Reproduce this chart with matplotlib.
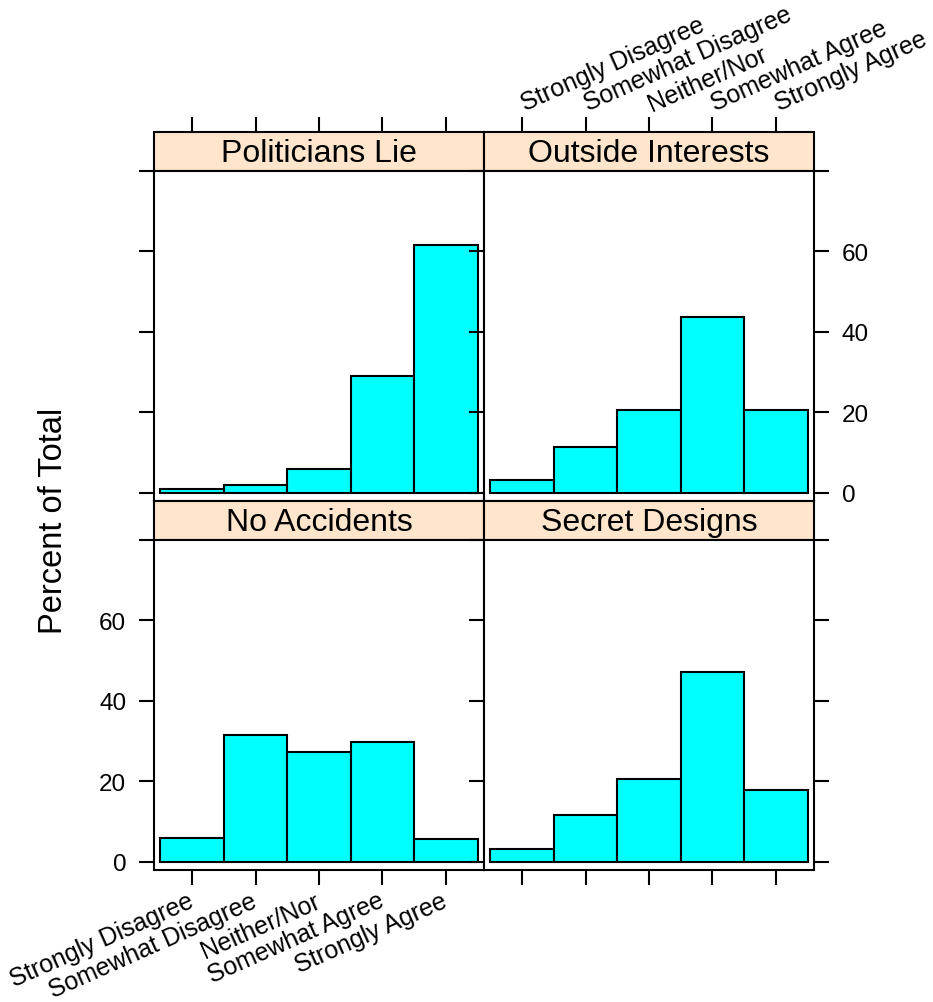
import matplotlib
matplotlib.use("Agg")
import matplotlib.pyplot as plt

plt.rcParams["font.family"] = ["Liberation Sans", "DejaVu Sans"]

# survey responses, percent of total per statement
levels = ["Strongly Disagree", "Somewhat Disagree", "Neither/Nor",
          "Somewhat Agree", "Strongly Agree"]
politicians_lie = [1.0, 2.0, 6.0, 29.1, 61.6]
outside_interests = [3.1, 11.4, 20.6, 43.6, 20.6]
no_accidents = [6.0, 31.6, 27.2, 29.7, 5.7]
secret_designs = [3.1, 11.7, 20.6, 47.2, 17.8]
y_ticks = [0, 20, 40, 60, 80]
y_ticklabels = ["0", "20", "40", "60", ""]

W, H = 933, 1003
STRIP = "#ffe5cc"
BAR = "#00ffff"
LW = 1.5

fig = plt.figure(figsize=(W / 100, H / 100), dpi=100)


def px_axes(x0, y0, x1, y1):
    return fig.add_axes([x0 / W, 1 - y1 / H, (x1 - x0) / W, (y1 - y0) / H])


# (title, values, row, col) -- row 0 is the top row
panels = [
    ("Politicians Lie", politicians_lie, 0, 0),
    ("Outside Interests", outside_interests, 0, 1),
    ("No Accidents", no_accidents, 1, 0),
    ("Secret Designs", secret_designs, 1, 1),
]

xpos = list(range(1, len(levels) + 1))
tick_kw = dict(direction="out", length=11, width=LW, labelsize=17.5)
xlab_kw = dict(rotation=24, va="center", rotation_mode="anchor", fontsize=18)

for title, vals, row, col in panels:
    x0 = 154 + col * 330
    x1 = x0 + 330
    top = 133 + row * 369
    strip = px_axes(x0, top, x1, top + 39)
    ax = px_axes(x0, top + 39, x1, top + 369)

    ax.bar(xpos, vals, width=1.0, color=BAR, edgecolor="black", linewidth=LW)
    ax.set_xlim(0.4, 5.6)
    ax.set_ylim(-2, 80)
    for a in (ax, strip):
        for s in a.spines.values():
            s.set_linewidth(LW)

    # strip header
    strip.set_facecolor(STRIP)
    strip.set_xlim(0.4, 5.6)
    strip.set_yticks([])
    strip.text(0.5, 0.45, title, transform=strip.transAxes,
               ha="center", va="center", fontsize=23)

    # y axis: labels on the left for bottom row, on the right for top row
    ax.set_yticks(y_ticks)
    ax.tick_params(axis="y", left=True, right=True, pad=9, **tick_kw)
    if row == 0:
        ax.tick_params(axis="y", labelleft=False, labelright=(col == 1))
        if col == 1:
            ax.set_yticklabels(y_ticklabels)
    else:
        ax.tick_params(axis="y", labelright=False, labelleft=(col == 0))
        if col == 0:
            ax.set_yticklabels(y_ticklabels)

    # x axis: ticks above the strip for top row, below panel for bottom row
    if row == 0:
        ax.set_xticks([])
        strip.set_xticks(xpos)
        strip.tick_params(axis="x", top=True, bottom=False, labelbottom=False,
                          labeltop=(col == 1), pad=9, **tick_kw)
        if col == 1:
            strip.set_xticklabels(levels, ha="left", **xlab_kw)
    else:
        strip.set_xticks([])
        ax.set_xticks(xpos)
        ax.tick_params(axis="x", bottom=True, top=False,
                       labelbottom=(col == 0), pad=10, **tick_kw)
        if col == 0:
            ax.set_xticklabels(levels, ha="right", **xlab_kw)

fig.text(54 / W, 1 - 521 / H, "Percent of Total", rotation=90,
         ha="center", va="center", fontsize=23.5)

fig.savefig("out.png", dpi=100)
